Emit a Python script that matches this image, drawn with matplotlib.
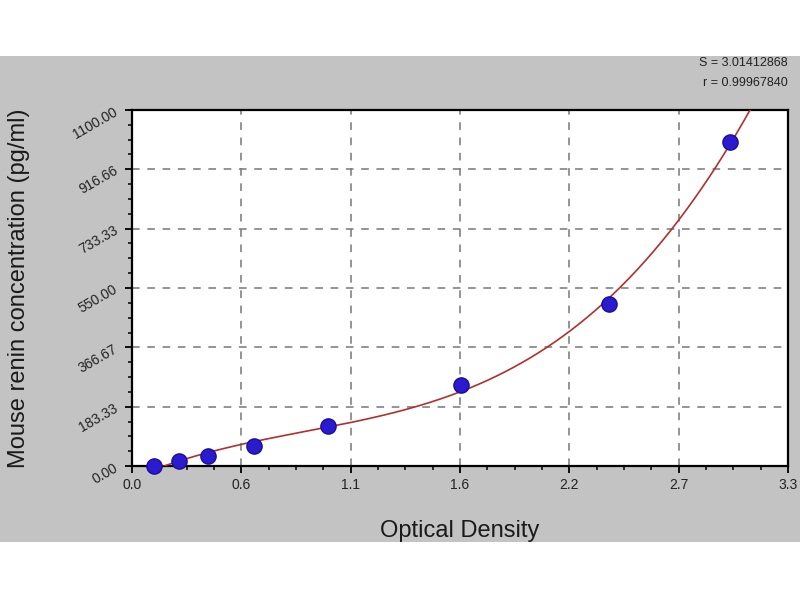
import numpy as np
import matplotlib
matplotlib.use("Agg")
import matplotlib.pyplot as plt
from matplotlib.patches import Rectangle
from matplotlib.ticker import AutoMinorLocator

plt.rcParams['font.family'] = ['Liberation Sans', 'DejaVu Sans']

# standard curve data
od = [0.111, 0.236, 0.382, 0.614, 0.986, 1.655, 2.40, 3.008]
conc = [0.0, 15.6, 31.25, 62.5, 125.0, 250.0, 500.0, 1000.0]
xticks = [0.0, 0.55, 1.1, 1.65, 2.2, 2.75, 3.3]
xticklabels = ['0.0', '0.6', '1.1', '1.6', '2.2', '2.7', '3.3']
yticks = [0.0, 183.33, 366.67, 550.0, 733.33, 916.66, 1100.0]
yticklabels = ['0.00', '183.33', '366.67', '550.00', '733.33', '916.66', '1100.00']

fig = plt.figure(figsize=(8, 6), dpi=100)
fig.patches.append(Rectangle((0, 0.0967), 1, 0.81, transform=fig.transFigure,
                             facecolor='#c3c3c3', edgecolor='none', zorder=-5))

ax = fig.add_axes([0.165, 0.2233, 0.82, 0.5934])
ax.set_facecolor('white')

# cubic fit through the standards
coef = np.polyfit(od, conc, 3)
xs = np.linspace(od[0], 3.2, 300)
ax.plot(xs, np.polyval(coef, xs), color='#b03030', lw=1.2, zorder=3)
ax.scatter(od, conc, s=120, color='#2a1bd0', edgecolors='#1a0f90', zorder=4, clip_on=False)

ax.set_xlim(0, 3.3)
ax.set_ylim(0, 1100)
ax.set_xticks(xticks)
ax.set_xticklabels(xticklabels, fontsize=10, color='#222222')
ax.set_yticks(yticks)
ax.set_yticklabels(yticklabels, fontsize=10, rotation=30, color='#222222')
ax.xaxis.set_minor_locator(AutoMinorLocator(4))
ax.yaxis.set_minor_locator(AutoMinorLocator(4))
ax.tick_params(which='major', direction='out', length=5, width=1.3)
ax.tick_params(which='minor', direction='out', length=3, width=1.1)
ax.grid(True, which='major', ls=(0, (5, 5)), color='#777777', lw=1.1)
for sp in ax.spines.values():
    sp.set_linewidth(1.6)

ax.set_xlabel('Optical Density', fontsize=17, labelpad=20, color='#1a1a1a')
ax.set_ylabel('Mouse renin concentration (pg/ml)', fontsize=17, labelpad=29, color='#1a1a1a')

fig.text(0.985, 0.895, 'S = 3.01412868', ha='right', va='center', fontsize=9, color='#222222')
fig.text(0.985, 0.862, 'r = 0.99967840', ha='right', va='center', fontsize=9, color='#222222')

fig.savefig('out.png', dpi=100)
